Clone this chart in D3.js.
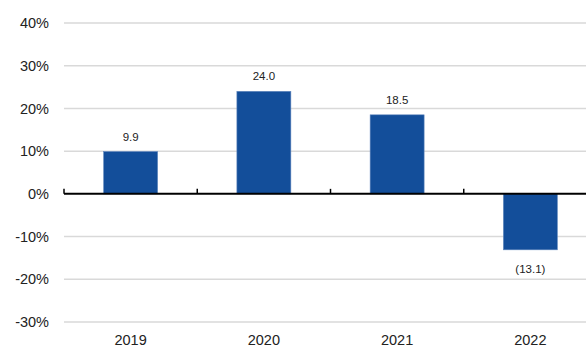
<!DOCTYPE html>
<html>
<head>
<meta charset="utf-8">
<script src="https://cdn.jsdelivr.net/npm/d3@7"></script>
<style>
  body { margin: 0; background: #fff; }
  svg { display: block; font-family: Arial, "Liberation Sans", sans-serif; }
</style>
</head>
<body>
<svg id="chart"></svg>
<script>
const years = ["2019", "2020", "2021", "2022"];
const values = [9.9, 24.0, 18.5, -13.1];
const yTicks = [-30, -20, -10, 0, 10, 20, 30, 40];

const width = 586, height = 349;
const svg = d3.select("#chart").attr("width", width).attr("height", height);

// plot runs a bit past the right edge, like the original
const x = d3.scaleBand().domain(years).range([64, 597]);
const y = d3.scaleLinear().domain([-30, 40]).range([322, 23]);
const barW = x.bandwidth() * 0.405;

// gridlines
svg.append("g")
  .selectAll("line")
  .data(yTicks.filter((d) => d !== 0))
  .join("line")
  .attr("x1", 64)
  .attr("x2", width)
  .attr("y1", (d) => y(d))
  .attr("y2", (d) => y(d))
  .attr("stroke", "#d9d9d9")
  .attr("stroke-width", 1.5);

// y labels
svg.append("g")
  .selectAll("text")
  .data(yTicks)
  .join("text")
  .attr("x", 49)
  .attr("y", (d) => y(d))
  .attr("dy", "0.35em")
  .attr("text-anchor", "end")
  .attr("font-size", 14.5)
  .attr("fill", "#222")
  .text((d) => d + "%");

// bars
svg.append("g")
  .selectAll("rect")
  .data(values)
  .join("rect")
  .attr("x", (d, i) => x(years[i]) + (x.bandwidth() - barW) / 2)
  .attr("y", (d) => y(Math.max(0, d)))
  .attr("width", barW)
  .attr("height", (d) => Math.abs(y(d) - y(0)))
  .attr("fill", "#134e9a")
  .attr("stroke", "#5f86bd")
  .attr("stroke-width", 0.6);

// value labels
svg.append("g")
  .selectAll("text")
  .data(values)
  .join("text")
  .attr("x", (d, i) => x(years[i]) + x.bandwidth() / 2)
  .attr("y", (d) => (d >= 0 ? y(d) - 15 : y(d) + 19))
  .attr("dy", "0.35em")
  .attr("text-anchor", "middle")
  .attr("font-size", 11.5)
  .attr("fill", "#222")
  .text((d) => (d >= 0 ? d.toFixed(1) : "(" + Math.abs(d).toFixed(1) + ")"));

// zero line with tick marks at category edges
svg.append("line")
  .attr("x1", 64)
  .attr("x2", width)
  .attr("y1", y(0))
  .attr("y2", y(0))
  .attr("stroke", "#000")
  .attr("stroke-width", 2);

svg.append("g")
  .selectAll("line")
  .data(years)
  .join("line")
  .attr("x1", (d) => x(d))
  .attr("x2", (d) => x(d))
  .attr("y1", y(0))
  .attr("y2", y(0) - 5)
  .attr("stroke", "#000")
  .attr("stroke-width", 1.5);

// x labels
svg.append("g")
  .selectAll("text")
  .data(years)
  .join("text")
  .attr("x", (d) => x(d) + x.bandwidth() / 2)
  .attr("y", 340)
  .attr("dy", "0.35em")
  .attr("text-anchor", "middle")
  .attr("font-size", 14.5)
  .attr("fill", "#222")
  .text((d) => d);
</script>
</body>
</html>
